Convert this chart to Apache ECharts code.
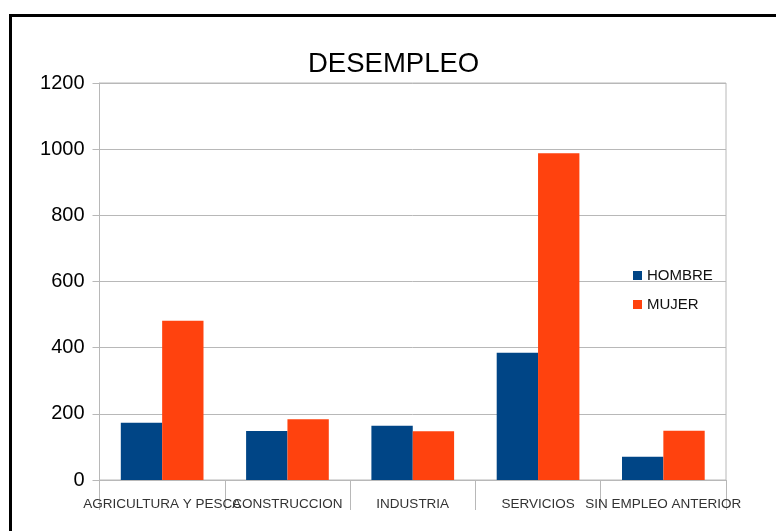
<!DOCTYPE html>
<html>
<head>
<meta charset="utf-8">
<title>DESEMPLEO</title>
<script src="https://cdn.jsdelivr.net/npm/echarts@6/dist/echarts.min.js"></script>
<style>
  html, body { margin: 0; padding: 0; background: #fff; }
  #chart { width: 776px; height: 531px; }
</style>
</head>
<body>
<div id="chart"></div>
<script>
// data
const sectores = ['AGRICULTURA Y PESCA', 'CONSTRUCCION', 'INDUSTRIA', 'SERVICIOS', 'SIN EMPLEO ANTERIOR']
const hombre = [173, 148, 164, 385, 70]
const mujer = [481, 184, 147, 988, 149]
const yMin = 0
const yMax = 1200
const yStep = 200

const gris = '#b8b8b8'
const fuente = 'Liberation Sans, Arial, sans-serif'

const chart = echarts.init(document.getElementById('chart'))
chart.setOption({
  animation: false,
  title: {
    text: 'DESEMPLEO',
    left: 303,
    top: 45,
    textStyle: { fontFamily: fuente, fontSize: 27.5, fontWeight: 'normal', color: '#000' }
  },
  legend: {
    orient: 'vertical',
    left: 628,
    top: 263,
    itemWidth: 9,
    itemHeight: 9,
    itemGap: 14,
    icon: 'rect',
    textStyle: { fontFamily: fuente, fontSize: 15, lineHeight: 15, color: '#111' },
    data: ['HOMBRE', 'MUJER']
  },
  grid: {
    left: 99.5,
    right: 50,
    top: 83,
    bottom: 51,
    show: true,
    borderColor: gris,
    borderWidth: 1
  },
  xAxis: {
    type: 'category',
    data: sectores,
    axisLine: { lineStyle: { color: gris, width: 1 } },
    axisTick: { show: true, length: 30, lineStyle: { color: gris } },
    axisLabel: {
      interval: 0,
      margin: 17,
      hideOverlap: false,
      fontFamily: fuente,
      fontSize: 13.5,
      color: '#333'
    }
  },
  yAxis: {
    type: 'value',
    min: yMin,
    max: yMax,
    interval: yStep,
    axisLine: { show: true, lineStyle: { color: gris, width: 1 } },
    axisTick: { show: true, length: 7, lineStyle: { color: gris } },
    axisLabel: {
      margin: 15,
      fontFamily: fuente,
      fontSize: 20,
      color: '#000',
      formatter: (v) => String(v)
    },
    splitLine: { lineStyle: { color: gris, width: 1 } }
  },
  series: [
    {
      name: 'HOMBRE',
      type: 'bar',
      data: hombre,
      barGap: '0%',
      barCategoryGap: '34%',
      itemStyle: { color: '#004586' }
    },
    {
      name: 'MUJER',
      type: 'bar',
      data: mujer,
      barGap: '0%',
      barCategoryGap: '34%',
      itemStyle: { color: '#ff420e' }
    }
  ],
  graphic: [
    {
      type: 'polyline',
      shape: { points: [[10.5, 531], [10.5, 15.5], [776, 15.5]] },
      style: { stroke: '#000', lineWidth: 3, fill: null },
      silent: true
    }
  ]
})
</script>
</body>
</html>
